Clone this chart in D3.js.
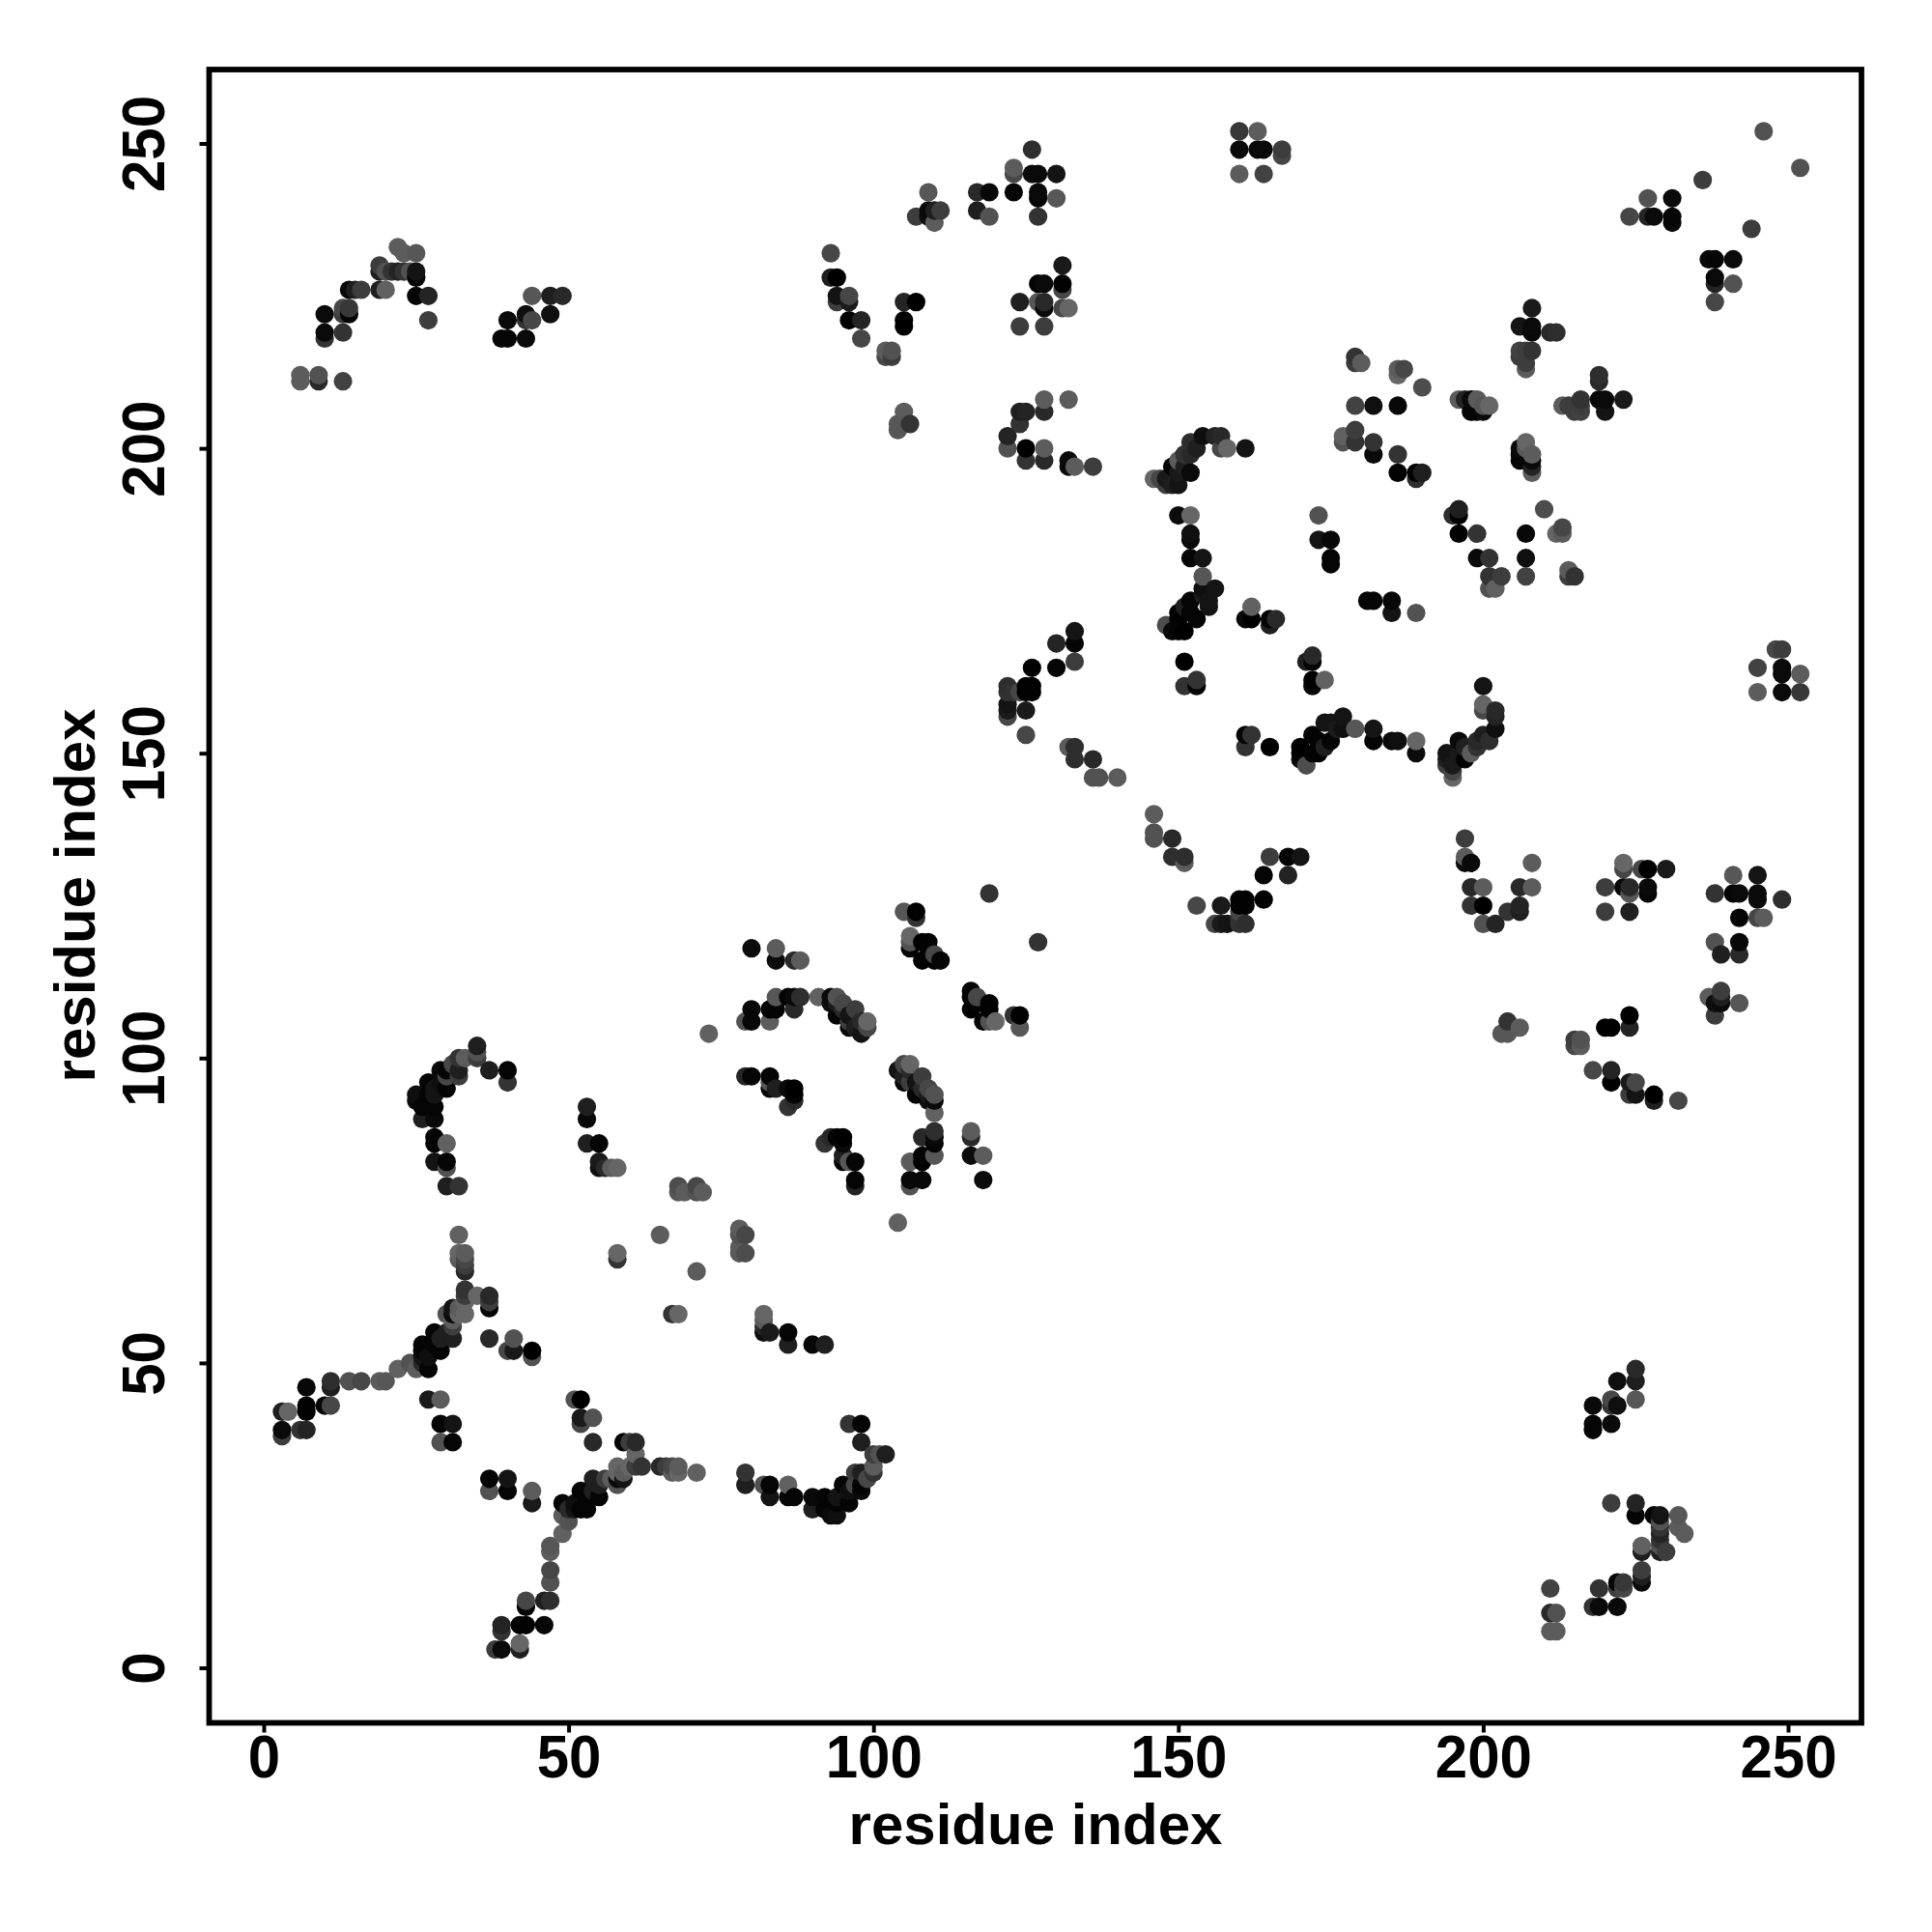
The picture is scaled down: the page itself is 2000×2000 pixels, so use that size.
<!DOCTYPE html>
<html><head><meta charset="utf-8">
<script src="https://cdn.jsdelivr.net/npm/d3@7"></script>
<style>html,body{margin:0;background:#fff}text{font-family:"Liberation Sans",Arial,sans-serif;font-weight:bold;fill:#000}</style>
</head><body><svg id="c" width="2000" height="2000"></svg>
<script>
// Contacts as [residue i, residue j, shade]; the map is symmetric, so each is drawn at (i,j) and (j,i).
const tickValues = [0, 50, 100, 150, 200, 250];
const axisTitle = "residue index";
const stemFarLeft = [[3,38,60],[3,39,10],[3,42,30],[4,42,100],[6,39,50],[7,39,35],[7,46,8],[7,43,2],[7,42,2],[10,43,5],[11,43,70],[11,46,30],[11,47,45],[14,47,80],[16,47,70],[19,47,90],[20,47,85],[22,49,95],[24,50,80],[25,49,90],[27,49,5],[26,51,20],[27,51,15],[26,53,5],[28,53,5],[29,52,5],[28,55,5],[29,54,30],[31,54,30],[31,56,60],[31,58,10],[31,57,90],[30,58,80],[32,58,100],[33,58,100],[33,62,50],[33,60,100],[35,61,100],[37,59,5],[37,60,60],[37,61,40],[37,54,40],[40,52,70],[41,52,25],[41,54,80],[44,51,80],[44,52,0],[32,67,90],[33,67,70],[33,65,40],[33,66,60],[32,68,100],[33,68,90],[32,71,95]];
const stemBottom = [[38,3,50],[39,3,10],[42,3,40],[42,4,90],[39,6,40],[39,7,40],[42,7,5],[43,7,5],[46,7,5],[43,10,20],[43,11,75],[46,11,30],[47,11,40],[47,14,75],[47,16,70],[47,19,90],[47,20,85],[49,25,80],[49,22,100],[50,24,80],[49,27,10],[50,26,40],[51,27,30],[52,26,5],[53,26,5],[52,29,5],[53,28,20],[54,29,10],[55,28,5],[54,31,10],[55,30,30],[56,31,80],[59,31,20],[58,30,70],[59,32,90],[58,33,100],[61,33,60],[62,33,50],[61,35,100],[59,37,10],[60,37,100],[61,37,40],[65,33,40],[66,33,60],[67,32,80],[68,32,80],[68,33,80],[71,32,85]];
const sideBottom = [[54,37,30],[54,41,75],[52,41,30],[52,40,60],[51,44,90],[52,44,5],[37,31,5],[37,29,80],[40,31,20],[40,29,5],[44,29,90],[44,27,25],[29,40,5],[31,40,20],[31,37,5],[29,37,85],[27,44,30],[29,44,90]];
const gapMiddle = [[58,67,50],[58,68,100],[65,71,90],[67,58,60],[68,58,90],[71,65,80],[78,69,90],[78,72,90],[79,71,70],[78,68,85],[79,68,75],[68,78,90],[68,79,85],[69,78,100],[71,78,80],[71,79,85],[72,78,95],[73,104,95],[104,73,100]];
const bendLower = [[82,58,100],[82,57,90],[82,55,15],[83,55,25],[86,55,5],[86,53,30],[90,53,8],[92,53,30],[96,40,50],[98,40,5],[98,37,30],[100,35,60],[101,35,80],[102,35,30],[97,32,60],[98,32,30],[100,33,90],[100,32,50],[99,31,70],[98,30,5],[95,30,5],[97,30,70],[98,29,10],[96,27,5],[95,28,20],[94,25,15],[93,25,10],[92,28,5],[90,28,10],[90,26,30],[92,26,5],[94,27,5],[79,32,50],[79,30,30],[82,30,80],[83,30,5],[83,28,20],[86,30,95],[86,28,5],[87,28,5]];
const arcLeft = [[35,102,45],[35,100,70],[33,100,95],[32,100,60],[31,99,80],[32,98,45],[32,97,65],[29,98,20],[30,97,30],[30,95,10],[29,96,15],[27,96,5],[27,94,5],[25,94,15],[25,93,8],[26,92,5],[28,92,5],[28,94,20],[26,90,30],[28,90,15],[28,87,5],[28,86,8],[30,86,85],[28,83,30],[30,82,50],[30,83,5],[30,79,35],[32,79,60],[37,98,40],[40,98,8],[40,96,50]];
const helixMid = [[53,92,30],[53,90,10],[53,86,35],[55,86,5],[55,82,30],[55,83,20],[56,82,40],[58,82,85]];
const arcUpper = [[80,118,12],[84,116,12],[84,118,90],[87,116,40],[88,116,90],[79,106,80],[80,106,8],[80,108,8],[83,108,2],[84,108,5],[83,106,90],[84,110,85],[87,108,40],[87,110,10],[88,110,45],[91,110,95],[93,110,10],[93,109,15],[94,107,5],[94,110,80],[95,109,70],[96,105,8],[96,107,20],[98,104,20],[97,108,60],[98,106,40],[99,105,70],[99,106,100]];
const arcLower = [[79,97,35],[80,97,5],[83,97,5],[83,95,5],[84,95,30],[86,92,50],[87,93,40],[87,94,5],[86,95,10],[87,95,0],[92,86,40],[93,87,50],[94,87,20],[95,87,5],[95,86,5],[95,83,20],[96,83,85],[97,83,5],[97,79,30],[97,80,10]];
const clusterA = [[105,124,85],[107,123,50],[107,124,2],[106,118,5],[106,119,80],[106,120,100],[108,119,2],[109,119,2],[108,116,2],[109,117,5],[110,116,2],[110,117,70],[111,116,5],[104,98,20],[105,96,5],[105,97,30],[106,96,60],[106,99,90],[107,94,10],[108,95,40],[108,97,55],[109,94,25],[110,91,95],[110,93,30],[110,94,75],[108,87,5],[110,86,5],[110,87,10],[110,88,40],[106,83,80],[108,83,5],[108,84,10],[110,84,65],[106,79,70],[106,80,8],[108,80,8]];
const bridgeLeft = [[133,170,20],[133,168,5],[130,168,35],[133,165,60],[130,164,5],[126,164,2],[122,156,70],[122,157,25],[122,158,20],[122,160,50],[122,161,45],[123,160,50],[125,161,2],[126,161,2],[125,160,2],[126,160,2],[125,157,25],[125,153,70],[132,151,90],[133,151,45],[133,149,45],[136,149,40],[136,146,80],[137,146,80],[140,146,90],[119,127,50]];
const bridgeRight = [[146,140,85],[146,136,80],[146,137,80],[149,136,35],[149,133,40],[151,133,40],[151,132,85],[153,125,80],[157,125,25],[156,122,60],[157,122,15],[158,122,25],[160,124,70],[160,122,35],[161,122,50],[160,125,2],[161,125,2],[160,126,0],[161,126,0],[164,126,0],[164,130,5],[165,133,50],[168,130,50],[168,133,5],[170,133,5]];
const chainCentre = [[151,165,0],[151,161,50],[153,161,5],[153,162,50],[172,161,10],[172,162,0],[174,162,95],[171,165,30],[172,165,5],[172,166,40],[161,153,10],[162,153,50],[161,151,65],[165,151,0],[171,148,75],[170,149,10],[170,150,5],[170,151,0],[172,150,5],[172,153,5],[173,150,2],[173,152,5],[174,151,30],[174,155,20],[175,155,20],[175,152,5],[176,154,25],[177,156,20],[177,154,15],[179,154,85],[182,154,20],[182,152,5],[185,152,10],[186,152,15],[189,150,12],[189,152,100],[194,148,60],[194,149,30],[194,150,20],[195,148,25],[195,147,70],[195,146,100],[196,150,25],[196,152,10],[197,149,5],[197,151,30],[198,150,90],[199,151,50],[199,152,40],[201,152,45],[200,153,30],[202,154,15],[202,156,35],[202,157,40],[200,157,70],[200,158,100],[200,161,20]];
const sheetUpper = [[179,215,50],[179,214,60],[180,214,90],[186,212,100],[186,213,90],[187,213,70],[190,210,75],[179,207,65],[182,207,15],[186,207,8],[177,201,80],[177,202,95],[179,201,50],[179,203,60],[182,199,10],[182,201,50],[186,196,2],[186,199,50],[189,195,45],[189,196,2],[190,196,30],[196,208,90],[197,208,35],[198,206,5],[198,208,10],[199,206,5],[200,206,10],[199,208,90],[200,207,85],[201,207,100],[208,219,8],[211,219,40],[212,219,45],[206,215,60],[206,216,65],[207,216,60],[208,216,50],[207,213,90],[207,214,60],[206,198,10],[206,200,15],[208,196,70],[208,197,20],[208,199,90],[207,201,100],[210,190,80],[212,186,90],[213,186,70],[213,187,70],[214,179,70],[214,180,90],[215,179,50],[207,186,8],[207,182,8],[207,179,60],[195,189,40],[196,189,5],[196,190,20],[196,186,2],[199,186,50],[199,182,10],[201,182,50],[201,179,60],[203,179,60],[201,177,60],[202,177,100],[173,189,80],[173,185,20],[175,185,8],[175,181,5],[175,182,5],[181,175,5],[182,175,5],[185,173,15],[185,175,5],[189,173,80],[219,211,30],[219,212,30],[213,207,90],[214,207,60],[215,206,50],[216,206,55],[216,208,50],[219,208,10],[220,206,20],[220,208,10],[223,208,25]];
const blockTop = [[126,249,45],[123,245,70],[123,246,90],[126,245,10],[127,245,10],[130,245,20],[123,242,5],[127,241,5],[127,242,10],[130,241,85],[127,238,50],[117,242,40],[119,242,8],[117,239,30],[119,238,80],[109,242,85],[107,238,60],[109,239,10],[110,239,30],[110,237,90],[111,239,60],[131,230,25],[131,226,70],[131,227,2],[127,227,5],[128,227,10],[124,224,30],[127,224,85],[128,223,10],[128,224,40],[131,223,70],[132,223,100],[124,220,60],[128,220,60],[93,232,70],[93,228,30],[94,228,0],[94,224,60],[94,225,20],[96,224,25],[96,225,70],[96,221,0],[98,221,35],[98,218,70],[105,224,35],[107,224,0],[105,220,0],[105,221,0],[102,215,70],[103,215,60],[102,216,90],[103,216,80]];
const blockRight = [[197,136,60],[197,132,10],[198,132,10],[197,133,90],[198,128,40],[200,128,90],[198,125,50],[200,125,0],[200,122,80],[202,122,35],[204,124,50],[206,124,30],[206,125,35],[206,128,40],[208,128,90],[208,132,90],[223,131,60],[223,132,90],[226,131,80],[227,131,2],[230,131,30],[220,128,60],[223,128,2],[224,127,70],[224,128,40],[227,127,10],[227,128,8],[220,124,70],[224,124,30],[241,130,80],[245,130,15],[238,127,40],[241,127,5],[242,127,10],[245,126,5],[245,127,10],[249,126,45],[242,123,0],[245,123,80],[246,123,90],[238,119,80],[242,119,10],[239,117,30],[242,117,40],[237,110,80],[238,109,15],[239,109,30],[239,111,70],[242,109,85],[238,107,60],[203,104,85],[204,104,85],[204,106,50],[206,105,90],[220,105,5],[221,105,5],[224,105,30],[224,107,5],[215,102,85],[216,102,85],[215,103,50],[216,103,90],[218,98,70],[221,96,0],[221,98,40],[224,94,70],[225,94,15],[224,96,50],[225,96,70],[228,93,30],[228,94,0],[232,93,70]];
const cornerTop = [[160,252,55],[163,252,90],[160,249,10],[163,249,10],[164,249,10],[167,248,70],[167,249,60],[160,245,90],[164,245,65],[224,238,70],[227,238,35],[228,238,10],[227,241,80],[231,237,8],[231,238,5],[231,241,10],[236,244,60],[246,252,80],[241,231,5]];
const hookTopLeft = [[22,233,90],[23,232,90],[25,232,85],[19,229,30],[19,230,60],[20,229,80],[21,229,50],[22,229,35],[23,229,50],[24,229,80],[25,228,5],[25,229,20],[19,226,30],[20,226,95],[14,226,10],[15,226,30],[16,226,60],[25,225,5],[27,225,35],[27,221,60],[13,222,60],[14,222,5],[13,223,70],[14,223,55],[10,222,10],[10,218,50],[10,219,10],[13,219,50],[6,211,90],[6,212,90],[9,211,40],[9,212,80],[13,211,65],[44,225,85],[47,225,30],[49,225,40],[47,222,15],[43,221,50],[43,222,15],[44,221,70],[40,221,10],[39,218,5],[40,218,5],[43,218,10]];

const contactGroups = [stemFarLeft, stemBottom, sideBottom, gapMiddle, bendLower, arcLeft, helixMid, arcUpper, arcLower, clusterA, bridgeLeft, bridgeRight, chainCentre, sheetUpper, blockTop, blockRight, cornerTop, hookTopLeft];

const seen = new Map();
contactGroups.flat().forEach(d => {
  const k = Math.min(d[0], d[1]) + "-" + Math.max(d[0], d[1]);
  if (!seen.has(k)) seen.set(k, d);
});
const points = [];
seen.forEach(([i, j, s]) => { points.push({x: i, y: j, s}); points.push({x: j, y: i, s}); });
// Later residues are painted over earlier ones, as in the reference's overlaps.
points.sort((a, b) => d3.ascending(a.x, b.x) || d3.ascending(a.y, b.y));

const frame = {left: 216.5, right: 1927, top: 72, bottom: 1783.5};
const x = d3.scaleLinear().domain([0, 250]).range([273, 1851]);
const y = d3.scaleLinear().domain([0, 250]).range([1726.5, 148.5]);
const shade = d3.scaleLinear().domain([0, 100]).range(["rgb(0,0,0)", "rgb(102,102,102)"]);

const svg = d3.select("#c");
svg.append("rect").attr("width", 2000).attr("height", 2000).attr("fill", "#fff");
svg.append("g").selectAll("circle").data(points).join("circle")
  .attr("cx", d => x(d.x)).attr("cy", d => y(d.y)).attr("r", 9.6)
  .attr("fill", d => shade(d.s));
svg.append("rect").attr("x", frame.left).attr("y", frame.top)
  .attr("width", frame.right - frame.left).attr("height", frame.bottom - frame.top)
  .attr("fill", "none").attr("stroke", "#000").attr("stroke-width", 5.8);

const gx = svg.append("g").attr("transform", `translate(0,${frame.bottom})`)
  .call(d3.axisBottom(x).tickValues(tickValues).tickSize(10).tickSizeOuter(0));
gx.select(".domain").remove();
gx.selectAll("line").attr("stroke", "#000").attr("stroke-width", 4);
gx.selectAll("text").attr("font-size", 60).attr("y", 0).attr("dy", 0)
  .attr("transform", "translate(0,56.5) scale(1,1.06)").attr("text-anchor", "middle");

const gy = svg.append("g").attr("transform", `translate(${frame.left},0)`)
  .call(d3.axisLeft(y).tickValues(tickValues).tickSize(10).tickSizeOuter(0));
gy.select(".domain").remove();
gy.selectAll("line").attr("stroke", "#000").attr("stroke-width", 4);
gy.selectAll("text").attr("font-size", 60).attr("x", 0).attr("y", 0).attr("dy", 0)
  .attr("text-anchor", "middle").attr("transform", "translate(-46.5,0) rotate(-90) scale(1,1.06)");

svg.append("text").attr("x", 1072).attr("y", 1909).attr("text-anchor", "middle")
  .attr("font-size", 60).text(axisTitle);
svg.append("text").attr("text-anchor", "middle").attr("font-size", 60)
  .attr("transform", "translate(98,927) rotate(-90)").text(axisTitle);
</script></body></html>
